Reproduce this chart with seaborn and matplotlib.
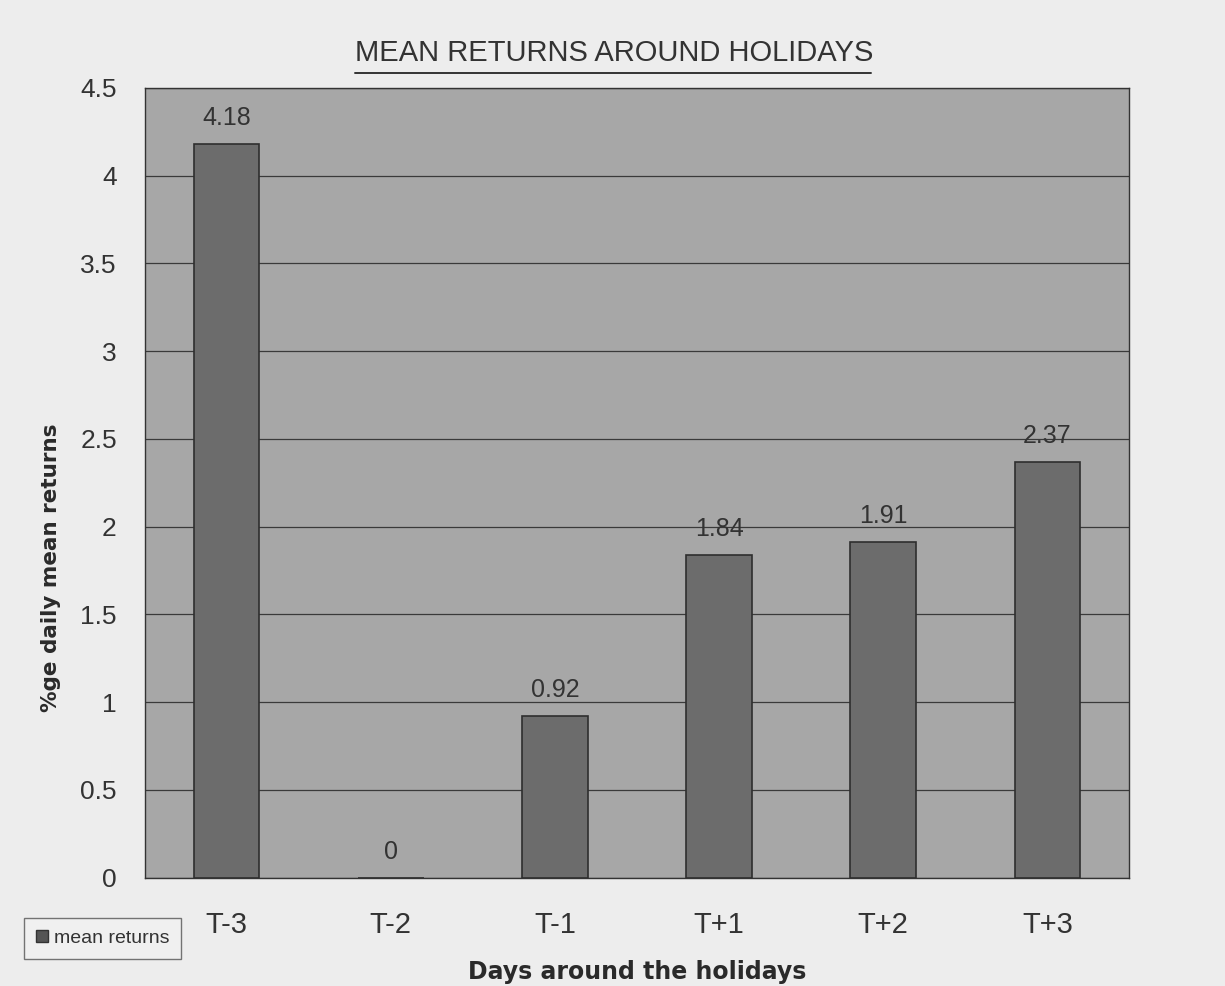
import seaborn as sns
import matplotlib.pyplot as plt
import pandas as pd
from matplotlib.lines import Line2D
from matplotlib.patches import Patch

dias = ['T-3', 'T-2', 'T-1', 'T+1', 'T+2', 'T+3']
retornos = [4.18, 0, 0.92, 1.84, 1.91, 2.37]
etiquetas = ['4.18', '0', '0.92', '1.84', '1.91', '2.37']

df = pd.DataFrame({'dia': dias, 'retorno': retornos})

sns.set_style('white')
plt.rcParams['font.family'] = ['Liberation Sans', 'DejaVu Sans']

fig = plt.figure(figsize=(12.25, 9.86), dpi=100, facecolor='#ededed')
ax = fig.add_axes([0.118, 0.110, 0.804, 0.801])
ax.set_facecolor('#a7a7a7')

sns.barplot(data=df, x='dia', y='retorno', color='#6c6c6c', width=0.4,
            edgecolor='#2e2e2e', linewidth=1.2, saturation=1, ax=ax, zorder=3)

ax.bar_label(ax.containers[0], labels=etiquetas, padding=10, fontsize=18, color='#333333')

ax.set_ylim(0, 4.5)
ax.set_xlim(-0.5, 5.5)
ax.set_yticks([0, 0.5, 1, 1.5, 2, 2.5, 3, 3.5, 4, 4.5])
ax.set_yticklabels(['0', '0.5', '1', '1.5', '2', '2.5', '3', '3.5', '4', '4.5'])
ax.yaxis.grid(True, color='#3a3a3a', linewidth=0.9, zorder=0)
ax.set_axisbelow(True)

ax.set_xticks([i - 0.5 for i in range(7)], minor=True)
ax.tick_params(axis='x', which='major', length=0, pad=24, labelsize=21, colors='#333333')
ax.tick_params(axis='x', which='minor', length=8, direction='out', color='#444444')
ax.tick_params(axis='y', length=8, direction='out', labelsize=19, colors='#333333', pad=12)
ax.tick_params(axis='y', color='#444444')

for s in ax.spines.values():
    s.set_color('#333333')
    s.set_linewidth(1.0)

ax.set_xlabel('Days around the holidays', fontsize=17, fontweight='bold', color='#2a2a2a',
              family='DejaVu Sans', labelpad=15)
ax.set_ylabel('%ge daily mean returns', fontsize=15.5, fontweight='bold', color='#2a2a2a',
              family='DejaVu Sans')
ax.yaxis.set_label_coords(-0.085, 0.392)

fig.text(0.501, 0.946, 'MEAN RETURNS AROUND HOLIDAYS', ha='center', va='center',
         fontsize=21, color='#333333')
fig.add_artist(Line2D([0.29, 0.711], [0.926, 0.926], color='#333333', linewidth=1.4))

fig.legend(handles=[Patch(facecolor='#555555', edgecolor='#333333', label='mean returns')],
           loc='lower left', bbox_to_anchor=(0.012, 0.018), fontsize=14,
           frameon=True, fancybox=False, edgecolor='#555555', facecolor='#f2f2f2',
           handlelength=0.6, handleheight=0.6, handletextpad=0.3, borderpad=0.6,
           labelcolor='#333333')

fig.savefig('out.png', dpi=100, facecolor=fig.get_facecolor())
